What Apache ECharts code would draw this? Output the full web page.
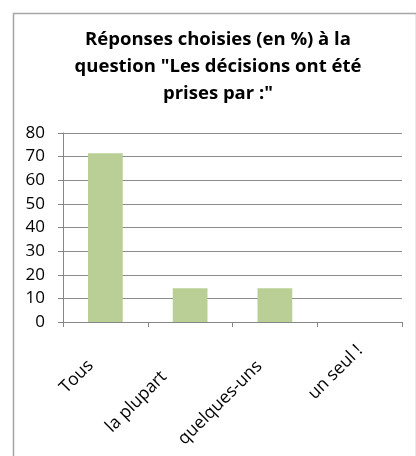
<!DOCTYPE html>
<html><head><meta charset="utf-8">
<script src="https://cdn.jsdelivr.net/npm/echarts@6/dist/echarts.min.js"></script>
<style>html,body{margin:0;padding:0;background:#fff}#c{width:416px;height:456px}</style>
</head><body><div id="c"></div>
<script>
const titleText = 'Réponses choisies (en %) à la\nquestion "Les décisions ont été\nprises par :"';
const categories = ['Tous', 'la plupart', 'quelques-uns', 'un seul !'];
const values = [71.4, 14.3, 14.3, 0];
const yTicks = [0, 10, 20, 30, 40, 50, 60, 70, 80];
// per-label shift along the rotated baseline (layout only)
const labelShift = [21, 37, 22, 0];

const chart = echarts.init(document.getElementById('c'), null, {renderer: 'canvas'});
const FONT = '"Open Sans", sans-serif';
chart.setOption({
  animation: false,
  backgroundColor: '#fff',
  graphic: [{
    type: 'rect', left: 11, top: 11,
    shape: {width: 403, height: 470},
    style: {fill: 'none', stroke: '#a6a6a6', lineWidth: 1.5},
    silent: true
  }],
  title: {
    text: titleText,
    left: 218, top: 26, padding: 0, textAlign: 'center',
    textStyle: {fontFamily: FONT, fontWeight: 'bold', fontSize: 18.5, lineHeight: 27, color: '#000'}
  },
  grid: {left: 63, right: 14, top: 133, bottom: 134, containLabel: false},
  xAxis: {
    type: 'category',
    data: categories.map((c, i) => ({value: c, textStyle: {padding: [0, labelShift[i], 0, 0]}})),
    axisLine: {lineStyle: {color: '#868686', width: 1}},
    axisTick: {show: true, length: 5, lineStyle: {color: '#868686'}},
    axisLabel: {rotate: 45, interval: 0, margin: 26, fontFamily: FONT, fontSize: 17.5, color: '#000'}
  },
  yAxis: {
    type: 'value', min: yTicks[0], max: yTicks[yTicks.length - 1], interval: 10,
    axisLine: {show: true, lineStyle: {color: '#868686', width: 1}},
    axisTick: {show: true, length: 5, lineStyle: {color: '#868686'}},
    splitLine: {lineStyle: {color: '#8c8c8c', width: 1}},
    axisLabel: {margin: 18, fontFamily: FONT, fontSize: 17, color: '#000'}
  },
  series: [{
    type: 'bar', data: values, barWidth: '41%',
    itemStyle: {color: '#b9cf96'}
  }]
});
</script></body></html>
